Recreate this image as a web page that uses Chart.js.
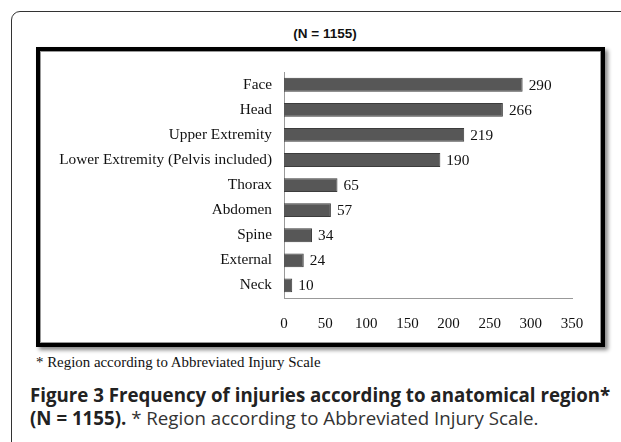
<!DOCTYPE html>
<html>
<head>
<meta charset="utf-8">
<script src="https://cdn.jsdelivr.net/npm/chart.js@4"></script>
<style>
  html, body { margin: 0; padding: 0; background: #fff; }
  body { width: 621px; height: 442px; position: relative; overflow: hidden; }
  .outer {
    position: absolute; left: 11px; top: 11px; width: 640px; height: 460px;
    border: 1.5px solid #333; border-radius: 9px;
  }
  .title {
    position: absolute; left: 0; width: 650px; top: 26px; text-align: center;
    font: bold 13.5px "Liberation Sans", Arial, sans-serif; color: #111;
  }
  .frame {
    position: absolute; left: 36px; top: 47px; width: 561px; height: 292px;
    border: 4px solid #000;
    box-shadow: 3px 3px 4px #888, inset 0 0 0 1px #999;
  }
  #wrap { position: absolute; left: 40px; top: 51px; width: 561px; height: 292px; }
  .note {
    position: absolute; left: 36px; top: 354px;
    font: 14.9px "Liberation Serif", "Times New Roman", serif; color: #111;
  }
  .cap {
    position: absolute; left: 30px; font-family: "Open Sans", sans-serif; font-size: 18.7px; color: #333;
    white-space: nowrap;
  }
  .cap b { color: #222; }
</style>
</head>
<body>
<div class="outer"></div>
<div class="title">(N = 1155)</div>
<div class="frame"></div>
<div id="wrap"><canvas id="out"></canvas></div>
<div class="note">* Region according to Abbreviated Injury Scale</div>
<div class="cap" style="top:382px"><b>Figure 3 Frequency of injuries according to anatomical region*</b></div>
<div class="cap" style="top:405px"><b>(N = 1155).</b> * Region according to Abbreviated Injury Scale.</div>

<script>
const regions = ["Face", "Head", "Upper Extremity", "Lower Extremity (Pelvis included)", "Thorax", "Abdomen", "Spine", "External", "Neck"];
const injuries = [290, 266, 219, 190, 65, 57, 34, 24, 10];
const xTicks = [0, 50, 100, 150, 200, 250, 300, 350];

const serif = "'Liberation Serif', 'Times New Roman', serif";

const valueLabels = {
    id: "valueLabels",
    afterDatasetsDraw(chart) {
        const ctx = chart.ctx;
        const meta = chart.getDatasetMeta(0);
        ctx.save();
        ctx.font = "15.3px " + serif;
        ctx.fillStyle = "#111";
        ctx.textBaseline = "middle";
        ctx.textAlign = "left";
        meta.data.forEach(function(bar, i) {
            ctx.fillText(String(injuries[i]), bar.x + 6, bar.y + 1);
        });
        ctx.restore();
    }
};

const canvasCtx = document.getElementById("out").getContext("2d");
const chartConfig = {
    type: "bar",
    data: {
        labels: regions,
        datasets: [{
            data: injuries,
            backgroundColor: "#575757",
            borderColor: "#3c3c3c",
            borderWidth: 1,
            barPercentage: 0.55,
            categoryPercentage: 1
        }]
    },
    options: {
        indexAxis: "y",
        responsive: true,
        maintainAspectRatio: false,
        animation: false,
        layout: { padding: { top: 15, right: 29, left: 0, bottom: 0 } },
        plugins: { legend: { display: false }, tooltip: { enabled: false } },
        scales: {
            x: {
                min: 0,
                max: 350,
                afterBuildTicks(scale) {
                    scale.ticks = xTicks.map(v => ({ value: v }));
                },
                afterFit(scale) { scale.height = 45; },
                grid: { display: false, drawTicks: false },
                border: { display: true, color: "#999", width: 1 },
                ticks: { padding: 17, color: "#111", font: { family: serif, size: 15 } }
            },
            y: {
                afterFit(scale) { scale.width = 244; },
                grid: { display: false, drawTicks: false },
                border: { display: true, color: "#999", width: 1 },
                ticks: { padding: 12, color: "#111", font: { family: serif, size: 15.3 } }
            }
        }
    },
    plugins: [valueLabels]
};

window.chart = new Chart(canvasCtx, chartConfig);
</script>
</body>
</html>
